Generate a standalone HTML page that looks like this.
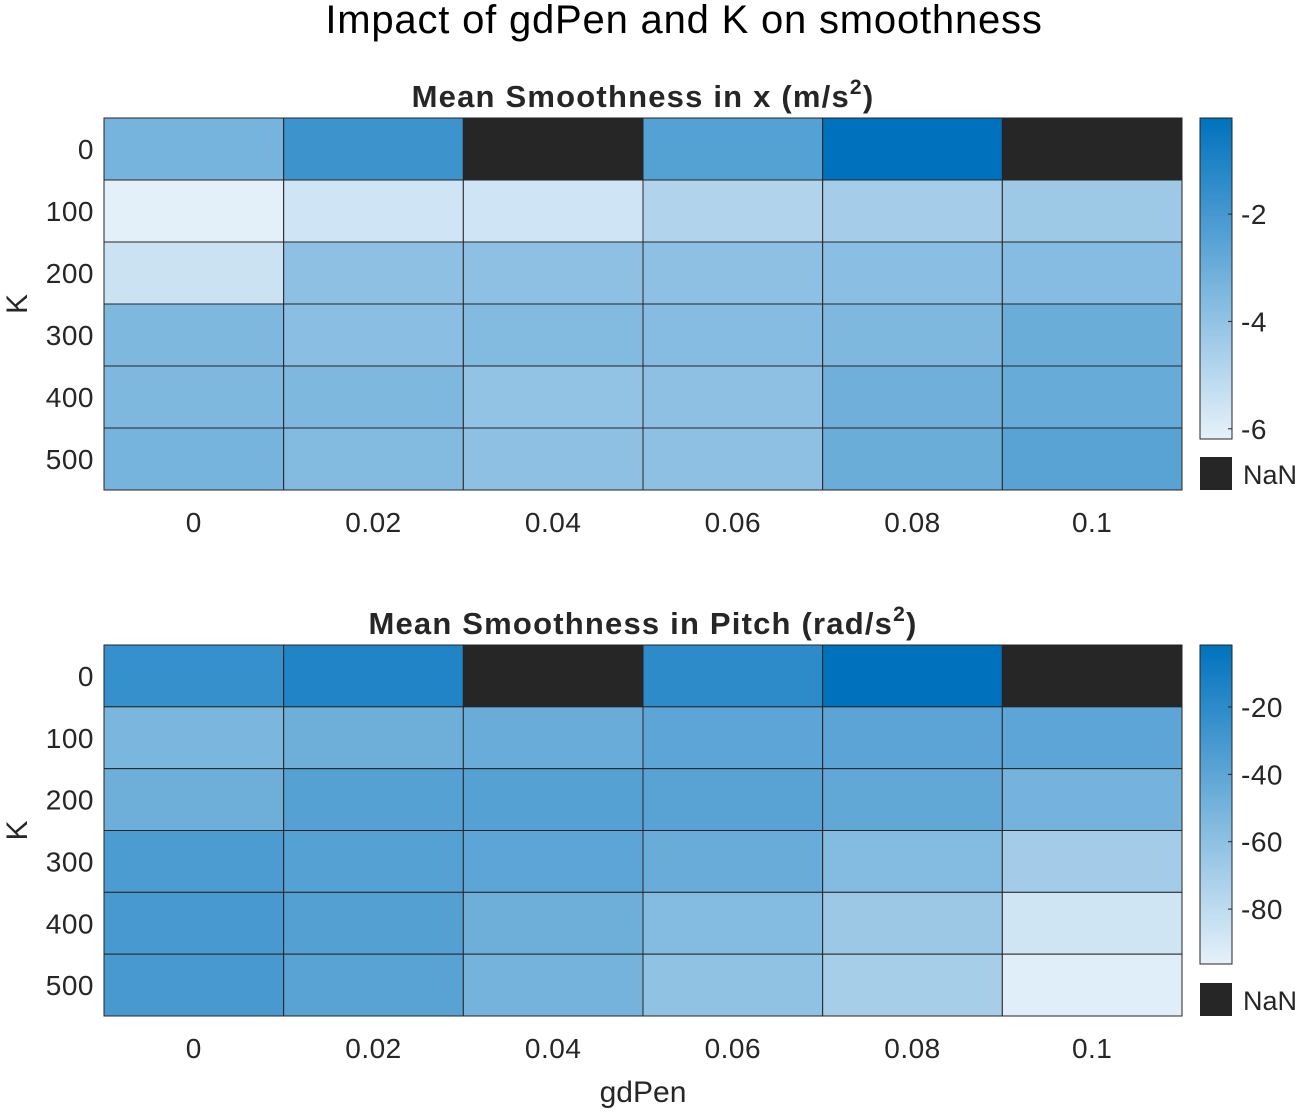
<!DOCTYPE html>
<html><head><meta charset="utf-8"><style>
body{margin:0;background:#fff;}
svg{display:block;font-family:"Liberation Sans",Arial,sans-serif;}
</style></head><body>
<svg id="fig" width="1299" height="1113" viewBox="0 0 1299 1113" xmlns="http://www.w3.org/2000/svg">
<text x="684" y="33" font-size="40" letter-spacing="0.8" text-anchor="middle" fill="#000">Impact of gdPen and K on smoothness</text>
</svg>
<script>
const gdPen = ["0","0.02","0.04","0.06","0.08","0.1"];
const kVals = ["0","100","200","300","400","500"];
const smoothX = [
  [-3.3,-1.8,null,-2.4,-0.21,null],
  [-6.1,-5.6,-5.6,-4.8,-4.5,-4.3],
  [-5.5,-3.9,-3.9,-3.9,-3.8,-3.7],
  [-3.5,-3.8,-3.6,-3.7,-3.5,-3.0],
  [-3.5,-3.5,-4.0,-3.9,-3.1,-2.9],
  [-3.3,-3.6,-3.9,-3.9,-3.0,-2.5]
];
const smoothPitch = [
  [-24,-15,null,-20,-1.6,null],
  [-52,-47,-45,-40,-39,-40],
  [-47,-37,-37,-38,-42,-50],
  [-33,-37,-40,-45,-56,-69],
  [-31,-36,-47,-56,-66,-87],
  [-31,-38,-50,-61,-70,-94]
];
const xRange = [-6.19,-0.21];
const pitchRange = [-96.3,-1.6];
const xTicks = [-2,-4,-6];
const pitchTicks = [-20,-40,-60,-80];

const NS="http://www.w3.org/2000/svg";
const svg=document.getElementById('fig');
function mk(tag,attrs,parent){const e=document.createElementNS(NS,tag);for(const k in attrs)e.setAttribute(k,attrs[k]);(parent||svg).appendChild(e);return e;}
const lo=[230,241,250], hi=[0,114,189];
function color(t){t=Math.max(0,Math.min(1,t));return `rgb(${lo.map((v,i)=>Math.round(v+(hi[i]-v)*t)).join(',')})`;}

function panel(top,bottom,title,data,range,ticks,prefix,showX){
  const L=104,R=1182,W=R-L,H=bottom-top;
  const cw=W/gdPen.length, rh=H/kVals.length;
  const g=mk('g',{});
  
  
  data.forEach((row,r)=>row.forEach((v,c)=>{
    const fill = v===null ? '#262626' : color((v-range[0])/(range[1]-range[0]));
    const rc=mk('rect',{x:L+c*cw,y:top+r*rh,width:cw,height:rh,fill:fill,stroke:'#262626','stroke-width':1},g);
    
    
  }));
  mk('rect',{x:L,y:top,width:W,height:H,fill:'none',stroke:'#262626','stroke-width':1},g);
  kVals.forEach((k,r)=>{
    const t=mk('text',{x:94,y:top+(r+0.5)*rh+10,'font-size':28,'letter-spacing':0.5,'text-anchor':'end',fill:'#262626'});
    t.textContent=k;
    
    
  });
  gdPen.forEach((p,c)=>{
    const t=mk('text',{x:L+(c+0.5)*cw,y:bottom+42,'font-size':28,'letter-spacing':0.5,'text-anchor':'middle',fill:'#262626'});
    t.textContent=p;
    
    
  });
  const yl=mk('text',{x:0,y:0,'font-size':30,'text-anchor':'middle',fill:'#262626',transform:`translate(27,${(top+bottom)/2}) rotate(-90)`});
  yl.textContent='K';
  
  
  const tt=mk('text',{x:643,y:top-11,'font-size':31,'letter-spacing':1.2,'font-weight':'bold','text-anchor':'middle',fill:'#262626'});
  
  
  const s1=mk('tspan',{},tt);s1.textContent=title;
  const s2=mk('tspan',{dy:-13,'font-size':21},tt);s2.textContent='2';
  const s3=mk('tspan',{dy:13},tt);s3.textContent=')';
  const cbTop=top, cbBot=top+(prefix==='x'?321:319);
  const defs=mk('defs',{});
  const gr=mk('linearGradient',{id:'g'+prefix,x1:0,y1:1,x2:0,y2:0},defs);
  mk('stop',{offset:0,'stop-color':color(0)},gr);
  mk('stop',{offset:1,'stop-color':color(1)},gr);
  const cb=mk('rect',{x:1200,y:cbTop,width:32,height:cbBot-cbTop,fill:`url(#g${prefix})`,stroke:'#262626','stroke-width':1});
  
  
  ticks.forEach(v=>{
    const y=cbBot-(v-range[0])/(range[1]-range[0])*(cbBot-cbTop);
    mk('line',{x1:1228,x2:1232,y1:y,y2:y,stroke:'#262626','stroke-width':1});
    const t=mk('text',{x:1241,y:y+10,'font-size':28,'letter-spacing':0.5,fill:'#262626'});
    t.textContent=v;
    
    
  });
  const nb=mk('rect',{x:1200,y:bottom-33,width:32,height:33,fill:'#262626'});
  
  
  const nt=mk('text',{x:1243,y:bottom-6,'font-size':27,fill:'#262626'});
  nt.textContent='NaN';
  
  
  if(showX){
    const xl=mk('text',{x:643,y:bottom+86,'font-size':30,'text-anchor':'middle',fill:'#262626'});
    xl.textContent='gdPen';
    
    
  }
}
panel(118,490,'Mean Smoothness in x (m/s',smoothX,xRange,xTicks,'x',false);
panel(645,1016,'Mean Smoothness in Pitch (rad/s',smoothPitch,pitchRange,pitchTicks,'pitch',true);
</script>
</body></html>
